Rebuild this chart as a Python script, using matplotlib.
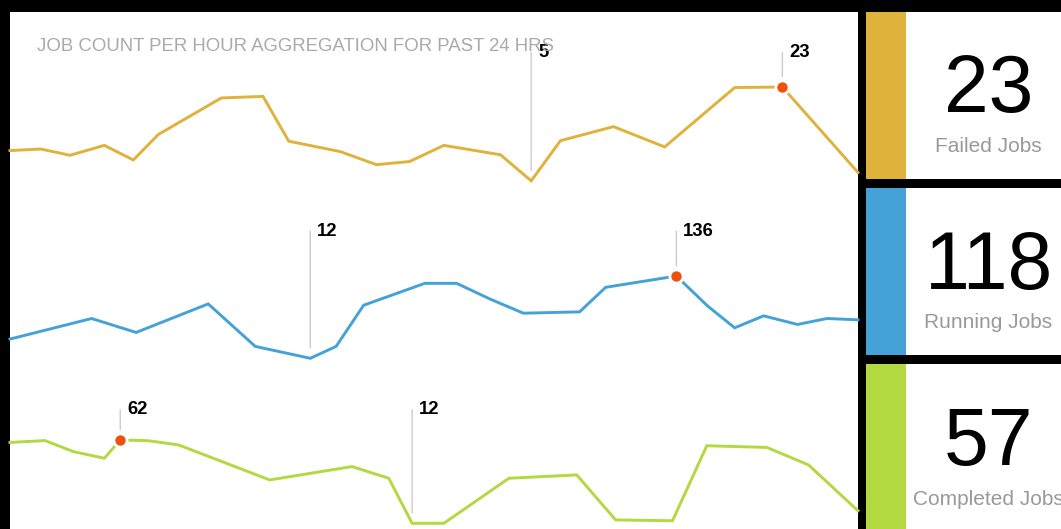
import matplotlib.pyplot as plt
from matplotlib.patches import Rectangle

plt.rcParams['font.family'] = ['Liberation Sans', 'DejaVu Sans']

# hours since start of the 24 h window, and job counts per series
failed_hours = [0, 0.87, 1.70, 2.67, 3.49, 4.20, 5.98, 7.16, 7.89, 9.35, 10.37,
                11.31, 12.28, 13.88, 14.75, 15.58, 17.08, 18.53, 20.51, 21.86, 24.0]
failed_counts = [10.8, 11.1, 9.9, 11.8, 9.0, 13.9, 20.9, 21.2, 12.6, 10.6, 8.1,
                 8.7, 11.8, 10.0, 5, 12.7, 15.4, 11.5, 22.9, 23, 6.6]

running_hours = [0, 2.31, 3.57, 5.61, 6.94, 8.50, 9.23, 10.01, 11.74, 12.64, 13.60,
                 14.53, 16.12, 16.86, 18.86, 19.74, 20.51, 21.33, 22.29, 23.12, 24.0]
running_counts = [41, 72, 51, 94, 30, 12, 30, 92, 125, 125, 101,
                  80, 82, 119, 136, 91, 58, 76, 63, 72, 70]

completed_hours = [0, 0.99, 1.79, 2.67, 3.12, 3.92, 4.77, 7.35, 9.68, 10.72,
                   11.38, 12.28, 14.12, 16.04, 17.14, 18.75, 19.72, 21.42, 22.60, 24.0]
completed_counts = [60.5, 61.6, 55, 51, 62, 61.5, 59, 38, 46, 39,
                    12, 12, 39, 41, 14, 13.5, 58.5, 57.5, 47, 19.5]

totals = [23, 118, 57]
total_labels = ['Failed Jobs', 'Running Jobs', 'Completed Jobs']
colors = ['#dfb23b', '#45a2d6', '#b2d940']
title = 'JOB COUNT PER HOUR AGGREGATION FOR PAST 24 HRS'

W, H = 1061, 529
fig = plt.figure(figsize=(W / 100, H / 100), dpi=100, facecolor='black')


def px_axes(x0, y0, x1, y1):
    # axes from pixel box (top-left origin)
    return fig.add_axes([x0 / W, 1 - y1 / H, (x1 - x0) / W, (y1 - y0) / H])


# white chart panel
bg = px_axes(10, 12, 858, H)
bg.set_facecolor('white')
bg.set_xticks([])
bg.set_yticks([])
for s in bg.spines.values():
    s.set_visible(False)

series = [
    (failed_hours, failed_counts, (3.1, 37.4)),
    (running_hours, running_counts, (-4.7, 264.6)),
    (completed_hours, completed_counts, (-2.9, 104.3)),
]
band_h = 178.7
for i, (hrs, cnt, ylim) in enumerate(series):
    top = 12 + i * band_h
    ax = px_axes(10, top, 858, top + band_h)
    ax.set_facecolor('none')
    ax.set_xlim(0, 24)
    ax.set_ylim(*ylim)
    ax.axis('off')
    ax.plot(hrs, cnt, color=colors[i], lw=2.1, solid_joinstyle='miter',
            clip_on=False, zorder=2)
    imax = len(cnt) - 1 - cnt[::-1].index(max(cnt))
    imin = cnt.index(min(cnt))
    ax.plot(hrs[imax], cnt[imax], 'o', ms=9.5, color='#ef500b',
            mec='white', mew=2, zorder=3, clip_on=False)
    label_y = 1 - 40.5 / band_h
    for j in (imin, imax):
        ax.annotate('', xy=(hrs[j], cnt[j]), xycoords='data',
                    xytext=(hrs[j], label_y), textcoords=('data', 'axes fraction'),
                    arrowprops=dict(arrowstyle='-', color='#cccccc', lw=1,
                                    shrinkA=0, shrinkB=7.5), zorder=1)
        ax.annotate('%d' % round(cnt[j]), xy=(hrs[j], label_y),
                    xycoords=('data', 'axes fraction'), xytext=(5, 0),
                    textcoords='offset points', va='center', ha='left',
                    fontsize=13.3, fontweight='bold', color='black', zorder=4)

fig.text(37 / W, 1 - 51 / H, title, color='#aaaaaa', fontsize=13.45,
         ha='left', va='baseline')

# summary boxes on the right
boxes = [(12, 179), (188, 355), (364, H)]
for i, (y0, y1) in enumerate(boxes):
    fig.add_artist(Rectangle((866 / W, 1 - y1 / H), 40 / W, (y1 - y0) / H,
                             transform=fig.transFigure, color=colors[i], lw=0))
    fig.add_artist(Rectangle((906 / W, 1 - y1 / H), (W - 906) / W, (y1 - y0) / H,
                             transform=fig.transFigure, color='white', lw=0))

num_base = [112, 288.5, 465]
for i in range(3):
    fig.text(989 / W, 1 - num_base[i] / H, str(totals[i]), fontsize=58,
             color='black', ha='center', va='baseline')
    fig.text(988 / W, 1 - (num_base[i] + 40) / H, total_labels[i], fontsize=15,
             color='#999999', ha='center', va='baseline')

fig.savefig('out.png', dpi=100, facecolor='black')
